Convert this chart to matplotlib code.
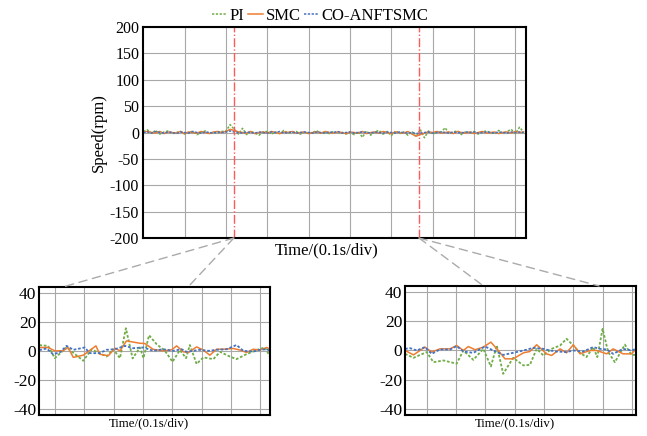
import numpy as np
import matplotlib
matplotlib.use("Agg")
import matplotlib.pyplot as plt
from matplotlib.patches import ConnectionPatch

plt.rcParams['font.family'] = ['Liberation Serif', 'DejaVu Serif']
plt.rcParams['axes.unicode_minus'] = False

# ---- full run, sampled every 0.01 s ----
t_main = np.arange(93) * 0.01
pi_main = [2, 5, -1, 4, -3, 1, 3, -2, 0, 2,
           -3, 1, 2, -4, 0, 3, -2, 1, -1, 2,
           3, 15, 6, -3, 8, -4, 2, -1, -5, 1,
           2, -3, 1, -2, 4, -1, 0, 2, -3, 1,
           -2, 1, 3, -1, 0, -2, 2, -1, 1, -3,
           0, -4, 2, -9, 3, -5, 1, 4, -3, 2,
           -6, 3, -2, 1, -5, 2, -8, 6, -10, 3,
           -3, 1, 0, 9, -2, 1, 3, -4, 2, -1,
           2, -3, 1, 3, 0, -2, 4, -1, 2, 6,
           -2, 10, 1]
smc_main = [1, 2, 0, -1, 2, -2, 1, 0, -1, 2,
            -2, 1, 0, -1, 2, 0, -2, 1, 2, 0,
            2, 6, 4, 1, 0, -1, 2, -2, 0, 1,
            -1, 2, 0, -2, 1, 0, 2, -1, 0, 1,
            -2, 0, 1, -1, 2, 0, -1, 1, 0, -2,
            1, 0, -1, 2, -2, 0, 1, -1, 2, 0,
            -2, 1, 0, -1, 2, -3, -7, -4, -1, 1,
            0, 2, -1, 0, 1, -2, 2, 0, -1, 1,
            -2, 0, 2, -1, 0, 1, -2, 0, 1, -1,
            2, 0, 1]
ctrl_main = [0, 1, -1, 2, 0, -1, 1, 0, -2, 1,
             0, -1, 2, 0, -1, 1, 0, -1, 1, 0,
             1, 3, 1, 0, -1, 1, 0, -1, 1, 0,
             -1, 1, 0, 2, -1, 0, 1, -1, 0, 1,
             0, -1, 1, 0, -1, 1, 0, 2, -1, 0,
             1, -1, 0, 1, 0, -1, 1, 0, -1, 1,
             0, -1, 1, 0, -1, 0, -2, -1, 0, 1,
             -1, 0, 1, 0, -1, 1, 0, -1, 1, 0,
             1, -1, 0, 1, 0, -1, 1, 0, -1, 1,
             0, 1, 0]
switch_times = [0.219, 0.667]

# ---- zoomed window 1 (x in divisions) ----
pi_x1 = [-0.53, -0.23, 0.0, 0.40, 0.97, 1.25, 1.76, 1.99, 2.22, 2.42, 2.65, 2.90,
         3.02, 3.21, 3.47, 3.75, 4.01, 4.26, 4.47, 4.60, 4.83, 5.06, 5.40, 5.63,
         5.97, 6.19, 6.53, 6.93, 7.16, 7.33]
pi_y1 = [3.9, 3.4, -5, 2.3, -6.8, 1, -3.9, 1, -5, 15.5, -5.2, 2.3,
         -5, 10.7, 4.5, 0, -7.5, 0.5, -5, 4, -9, -4.5, -5.7, -0.7,
         -4, -5.7, -2.3, 1, 2.3, -3.9]
smc_x1 = [-0.53, -0.23, 0.0, 0.28, 0.45, 0.63, 0.97, 1.40, 1.53, 1.82, 2.05, 2.22,
          2.44, 2.90, 3.07, 3.35, 3.69, 3.98, 4.15, 4.38, 4.55, 4.83, 5.06, 5.28,
          5.51, 5.74, 6.08, 6.31, 6.53, 6.76, 6.99, 7.22, 7.33]
smc_y1 = [2.3, 2.3, 0, 0, 2.3, -4.5, -3, 3.4, -2.3, -3.4, 1.8, 0,
          6.8, 5.2, 5, 1, 0, 0.7, 3.4, -0.7, -1.1, 2.7, 0.5, -3,
          1.1, 1.1, 1.6, 0.5, -1.1, 1.1, 0.5, 2.3, 1.1]
ctrl_x1 = [-0.53, -0.28, -0.06, 0.17, 0.40, 0.63, 1.02, 1.19, 1.53, 1.76, 2.05, 2.39,
           2.67, 3.02, 3.35, 3.69, 4.03, 4.32, 4.49, 4.72, 4.94, 5.23, 5.51, 5.85,
           6.19, 6.42, 6.76, 6.99, 7.22, 7.33]
ctrl_y1 = [0.5, 1.6, -2.3, -1.1, 3.4, 0.7, 2.3, -1.6, -1.6, 0.7, 1.1, 3.4,
           1.8, 2.3, 0, 1.1, 0, 1.1, -0.7, 0, 0.7, 0, 0.7, 1.1,
           4, 0, -0.5, 0.7, 1.1, 0]

# ---- zoomed window 2 (x in divisions) ----
pi_x2 = [-0.74, -0.45, 0.0, 0.23, 0.57, 1.02, 1.25, 1.59, 1.93, 2.19, 2.39, 2.61,
         2.95, 3.30, 3.52, 3.75, 3.98, 4.26, 4.55, 4.77, 5.00, 5.23, 5.45, 5.68,
         5.82, 6.00, 6.19, 6.42, 6.76, 6.99, 7.14]
pi_y2 = [-2.3, -5, -1.1, -8, -6.8, -9, 0, -6.4, 1.1, -10.9, 3.4, -15.9,
         -5, -10.2, -9.8, 1.1, -3.4, 1.1, 3.4, 8, 3.4, -1.6, -4.5, 2.3,
         -4.5, 14.8, -1.1, -8, 4, -3, -3]
smc_x2 = [-0.74, -0.45, -0.06, 0.17, 0.45, 0.80, 1.02, 1.25, 1.42, 1.65, 1.93, 2.19,
          2.44, 2.67, 2.95, 3.30, 3.52, 3.75, 4.09, 4.26, 4.55, 4.77, 5.00, 5.23,
          5.57, 5.80, 6.14, 6.36, 6.70, 6.99, 7.14]
smc_y2 = [0, -3, 2.3, -1.1, 1.1, 1.1, 3.4, 0, 2.7, 0.5, 2.3, 5.7,
          0, -5.7, -5.7, -1.6, -0.7, 3.9, -2.3, -3.4, 1.1, -1.6, 3.9, -2.3,
          0, 0, -2.3, 1.1, -2.3, -2.3, 1.1]
ctrl_x2 = [-0.74, -0.57, -0.34, -0.06, 0.17, 0.45, 0.80, 1.02, 1.25, 1.59, 1.99, 2.27,
           2.61, 2.95, 3.30, 3.64, 3.98, 4.20, 4.43, 4.77, 5.00, 5.34, 5.68, 5.91,
           6.14, 6.36, 6.70, 6.99, 7.14]
ctrl_y2 = [1.1, 1.6, 0, 2.3, -2.3, 0.7, 0.7, 3, -0.7, -1.6, 2.7, 0,
           -3, -1.6, 0, 1.8, 1.1, 0, -0.7, -1.1, 0, -0.7, 2.3, 1.1,
           0.7, -2.3, 1.1, 0, 1.1]

c_pi = '#70AD47'
c_smc = '#ED7D31'
c_ctrl = '#4472C4'
dot = (0, (1.5, 1))
grid_c = '#A8A8A8'

fig = plt.figure(figsize=(6.47, 4.36), dpi=100)
ax = fig.add_axes([0.2215, 0.4541, 0.591, 0.4839])
ax1 = fig.add_axes([0.0607, 0.0482, 0.3566, 0.2943])
ax2 = fig.add_axes([0.626, 0.0482, 0.357, 0.2959])

# main plot
ax.plot(t_main, pi_main, color=c_pi, ls=dot, lw=1.1, label='PI')
ax.plot(t_main, smc_main, color=c_smc, ls='-', lw=1.1, label='SMC')
ax.plot(t_main, ctrl_main, color=c_ctrl, ls=dot, lw=1.1, label='CO-ANFTSMC')
for ts in switch_times:
    ax.axvline(ts, color='#FF5A5A', ls='-.', lw=1.0)
ax.set_xlim(0, 0.925)
ax.set_ylim(-200, 200)
ax.set_xticks(np.arange(1, 10) * 0.1)
ax.set_xticklabels([])
ax.set_yticks(np.arange(-200, 201, 50))
ax.tick_params(length=0, labelsize=11.5, pad=3)
ax.grid(True, color=grid_c, lw=0.8)
ax.set_xlabel('Time/(0.1s/div)', fontsize=12, labelpad=2)
ax.xaxis.set_label_coords(0.48, -0.02, transform=ax.transAxes)
ax.xaxis.label.set_va('top')
ax.set_ylabel('Speed(rpm)', fontsize=12, labelpad=2)
for s in ax.spines.values():
    s.set_linewidth(1.5)

# zoomed windows
for a, data, xl in [
    (ax1, [(pi_x1, pi_y1), (smc_x1, smc_y1), (ctrl_x1, ctrl_y1)], (-0.53, 7.33)),
    (ax2, [(pi_x2, pi_y2), (smc_x2, smc_y2), (ctrl_x2, ctrl_y2)], (-0.74, 7.14)),
]:
    a.plot(data[0][0], data[0][1], color=c_pi, ls=dot, lw=1.3)
    a.plot(data[1][0], data[1][1], color=c_smc, ls='-', lw=1.1)
    a.plot(data[2][0], data[2][1], color=c_ctrl, ls=dot, lw=1.3)
    a.set_xlim(*xl)
    a.set_ylim(-44, 44)
    a.set_xticks(range(8))
    a.set_xticklabels([])
    a.set_yticks([-40, -20, 0, 20, 40])
    a.tick_params(length=0, labelsize=12.5, pad=2)
    a.grid(True, color=grid_c, lw=0.8)
    a.set_xlabel('Time/(0.1s/div)', fontsize=9.3)
    a.xaxis.set_label_coords(0.475, -0.015, transform=a.transAxes)
    a.xaxis.label.set_va('top')
    for s in a.spines.values():
        s.set_linewidth(1.5)

# dashed guides from each switching instant down to its zoomed window
for ts, a, fracs in [(switch_times[0], ax1, (0.107, 0.646)),
                     (switch_times[1], ax2, (0.34, 0.84))]:
    for f in fracs:
        con = ConnectionPatch(xyA=(ts, -200), coordsA=ax.transData,
                              xyB=(f, 1.0), coordsB=a.transAxes,
                              color='#AAAAAA', lw=1.0, ls=(0, (6, 4)))
        fig.add_artist(con)

fig.legend(loc='upper center', bbox_to_anchor=(0.495, 1.0), ncol=3,
           frameon=False, fontsize=12, handlelength=0.9, handletextpad=0.15,
           columnspacing=0.2, borderaxespad=0.1)

fig.savefig('out.png', dpi=100)
